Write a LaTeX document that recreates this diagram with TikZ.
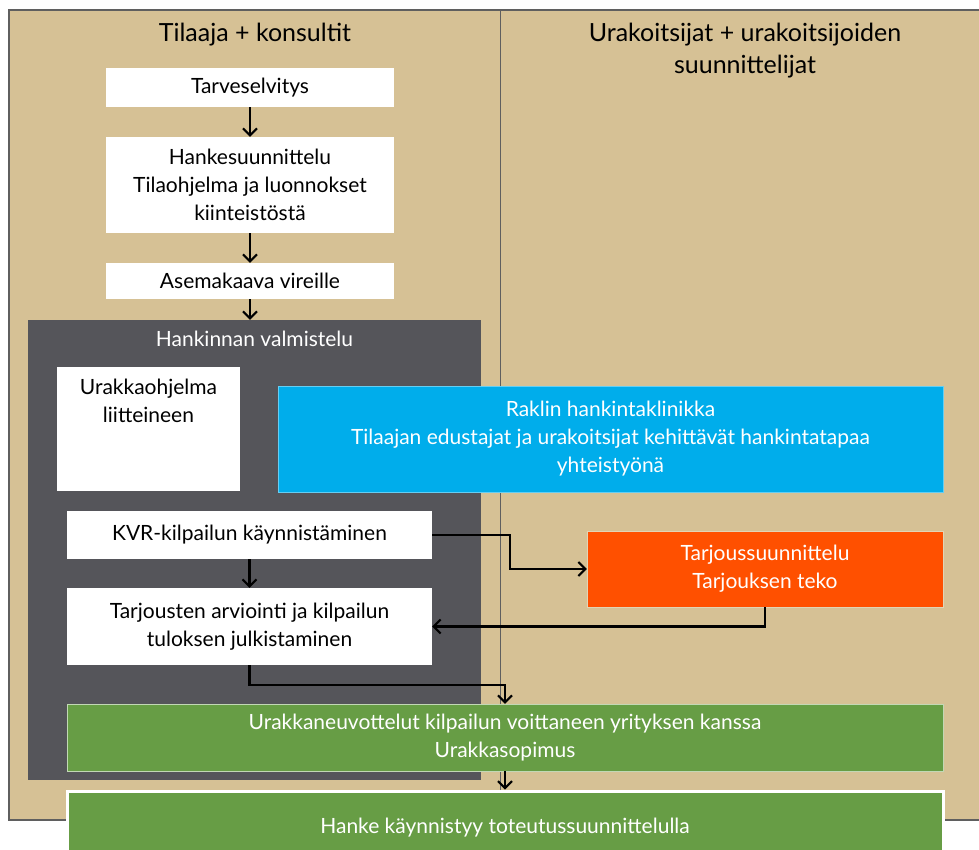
\documentclass[tikz,border=0pt]{standalone}
\usepackage{fontspec}
\setmainfont{Lato}
\usetikzlibrary{arrows.meta,positioning}

\definecolor{hiekka}{HTML}{D6C195}
\definecolor{reuna}{HTML}{5F5F5F}
\definecolor{tumma}{HTML}{55555A}
\definecolor{sininen}{HTML}{00ADEB}
\definecolor{oranssi}{HTML}{FF5000}
\definecolor{vihrea}{HTML}{679D45}

\newcommand{\leipa}{\fontsize{21}{28}\selectfont}
\newcommand{\otsikko}{\fontsize{25}{32}\selectfont}

\tikzset{
  laatikko/.style={fill=white, inner sep=0pt, align=center, font=\leipa},
  varilaatikko/.style={inner sep=0pt, align=center, font=\leipa, text=white},
  nuoli/.style={-{Straight Barb[length=7pt,width=14pt]}, line width=2.1pt},
}

\begin{document}
\begin{tikzpicture}[x=1pt, y=-1pt]
  \useasboundingbox (0,0) rectangle (979,850);

  % taustapaneeli ja sarakkeet
  \draw[fill=hiekka, draw=reuna, line width=1.2pt] (9,10) rectangle (990,820);
  \draw[reuna, line width=0.8pt] (500,10) -- (500,820);
  \node[font=\otsikko] (tilaaja) at (255,35) {Tilaaja + konsultit};
  \node[font=\otsikko, align=center] (urakoitsijat) at (745,51) {Urakoitsijat + urakoitsijoiden\\suunnittelijat};

  % tilaajan vaiheet
  \node[laatikko, minimum width=288, minimum height=39] (tarve)  at (250,87.5) {Tarveselvitys};
  \node[laatikko, minimum width=288, minimum height=96] (hanke)  at (250,185)  {Hankesuunnittelu\\Tilaohjelma ja luonnokset\\kiinteistöstä};
  \node[laatikko, minimum width=288, minimum height=36] (asema)  at (250,281)  {Asemakaava vireille};

  % hankinnan valmistelu
  \node[fill=tumma, minimum width=453, minimum height=460, inner sep=0pt,
        label={[text=white, font=\leipa, anchor=north, yshift=-8pt]north:Hankinnan valmistelu}] (valmistelu) at (254.5,550) {};
  \node[laatikko, minimum width=183, minimum height=124] (ohjelma) at (148.5,429)
        {\parbox[t][100pt][t]{180pt}{\centering\leipa Urakkaohjelma\\liitteineen}};
  \node[varilaatikko, fill=sininen, draw=sininen!60!white, minimum width=665, minimum height=106] (klinikka) at (610.5,439)
        {Raklin hankintaklinikka\\Tilaajan edustajat ja urakoitsijat kehittävät hankintatapaa\\yhteistyönä};
  \node[laatikko, minimum width=365, minimum height=48] (kvr)       at (249.5,535)   {KVR-kilpailun käynnistäminen};
  \node[laatikko, minimum width=365, minimum height=77] (arviointi) at (249.5,626.5) {Tarjousten arviointi ja kilpailun\\tuloksen julkistaminen};
  \node[varilaatikko, fill=oranssi, draw=hiekka!70!white, minimum width=356, minimum height=76] (tarjous) at (765,569)
        {Tarjoussuunnittelu\\Tarjouksen teko};

  % sopimus ja toteutus
  \node[varilaatikko, fill=vihrea, draw=vihrea!40!white, minimum width=876, minimum height=67] (neuvottelu) at (505,737.5)
        {Urakkaneuvottelut kilpailun voittaneen yrityksen kanssa\\Urakkasopimus};
  \node[varilaatikko, fill=vihrea, draw=white, line width=3pt, minimum width=876, minimum height=74] (toteutus) at (505,828)
        {Hanke käynnistyy toteutussuunnittelulla};

  % nuolet
  \draw[nuoli] (tarve) -- (hanke);
  \draw[nuoli] (hanke) -- (asema);
  \draw[nuoli] (asema.south) -- (asema.south |- valmistelu.north);
  \draw[nuoli] (kvr) -- (arviointi);
  \draw[nuoli] (kvr.east) -- ++(78,0) |- (tarjous.west);
  \draw[nuoli] (tarjous.south) |- (arviointi.east);
  \draw[nuoli] (arviointi.south) -- ++(0,20) -| (neuvottelu.north);
  \draw[nuoli] (neuvottelu) -- (toteutus);
\end{tikzpicture}
\end{document}
